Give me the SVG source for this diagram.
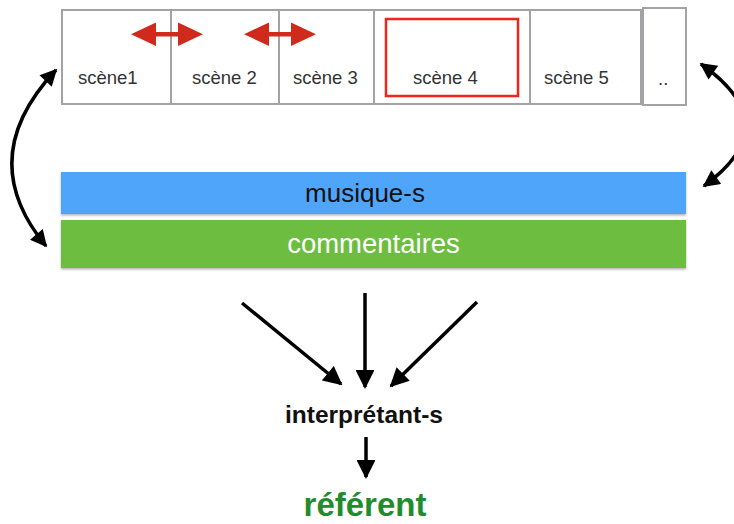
<svg xmlns="http://www.w3.org/2000/svg" width="734" height="524" viewBox="0 0 734 524">
<style>
.box{fill:#fff;stroke:#a3a3a6;stroke-width:2}
.sc{font-family:"Liberation Sans",Arial,sans-serif;font-size:18.5px;fill:#333}
.conn{fill:none;stroke:#000;stroke-width:3.5}
.red{fill:#cf2a1b}
</style>
<defs>
<marker id="ah" viewBox="0 0 10 10" refX="9" refY="5" markerWidth="5.2" markerHeight="4.8" markerUnits="strokeWidth" orient="auto-start-reverse">
<path d="M0,0 L10,5 L0,10 z" fill="#000"/>
</marker>
<marker id="ah2" viewBox="0 0 10 10" refX="9" refY="5" markerWidth="5.5" markerHeight="5.4" markerUnits="strokeWidth" orient="auto">
<path d="M0,0 L10,5 L0,10 z" fill="#000"/>
</marker>
<filter id="sh" x="-5%" y="-20%" width="110%" height="150%">
<feDropShadow dx="0" dy="1.5" stdDeviation="1.2" flood-color="#000" flood-opacity="0.3"/>
</filter>
</defs>

<g id="scene1"><rect class="box" x="62" y="10" width="109" height="94"/><text class="sc" x="78" y="84">scène1</text></g>
<g id="scene2"><rect class="box" x="171" y="10" width="108" height="94"/><text class="sc" x="192" y="84">scène 2</text></g>
<g id="scene3"><rect class="box" x="279" y="10" width="95" height="94"/><text class="sc" x="293" y="84">scène 3</text></g>
<g id="scene4"><rect class="box" x="374" y="10" width="156" height="94"/><rect x="386" y="19" width="132" height="77" fill="none" stroke="#f0241b" stroke-width="2.5"/><text class="sc" x="413" y="84">scène 4</text></g>
<g id="scene5"><rect class="box" x="530" y="10" width="111" height="94"/><text class="sc" x="544" y="84">scène 5</text></g>
<g id="scene6"><rect class="box" x="643" y="8" width="43" height="97"/><text class="sc" x="658" y="85">..</text></g>

<g id="musique"><rect x="61" y="172" width="625" height="42" fill="#4fa5f9" filter="url(#sh)"/><text x="365" y="202" text-anchor="middle" font-family="'Liberation Sans',Arial,sans-serif" font-size="26" fill="#111">musique-s</text></g>
<g id="commentaires"><rect x="61" y="220" width="625" height="48" fill="#6dbe40" filter="url(#sh)"/><text x="373.5" y="253" text-anchor="middle" font-family="'Liberation Sans',Arial,sans-serif" font-size="27.5" fill="#fff">commentaires</text></g>

<g id="interpretant"><text x="364" y="423" text-anchor="middle" font-family="'Liberation Sans',Arial,sans-serif" font-weight="bold" font-size="24.5" fill="#111">interprétant-s</text></g>
<g id="referent"><text x="365" y="516" text-anchor="middle" font-family="'Liberation Sans',Arial,sans-serif" font-weight="bold" font-size="33" fill="#1f8c2e">référent</text></g>

<g id="connectors">
<g id="red-arrows">
<rect class="red" x="150" y="32" width="34" height="4.5"/>
<path class="red" d="M131,34.2 L156,22.5 L156,46 z"/>
<path class="red" d="M203,34.2 L178,22.5 L178,46 z"/>
<rect class="red" x="263" y="32" width="34" height="4.5"/>
<path class="red" d="M244,34.2 L269,22.5 L269,46 z"/>
<path class="red" d="M316,34.2 L291,22.5 L291,46 z"/>
</g>
<path class="conn" d="M56,70 Q-27,158 46,246" marker-start="url(#ah)" marker-end="url(#ah)"/>
<path class="conn" d="M701,64 Q788,125 704,186" marker-start="url(#ah)" marker-end="url(#ah)"/>
<path class="conn" stroke-width="4" d="M242,303 L341,384" marker-end="url(#ah2)"/>
<path class="conn" stroke-width="4" d="M365,293 L365,387" marker-end="url(#ah2)"/>
<path class="conn" stroke-width="4" d="M477,302 L391,386" marker-end="url(#ah2)"/>
<path class="conn" stroke-width="4" d="M366,437 L366,477" marker-end="url(#ah2)"/>
</g>
</svg>
